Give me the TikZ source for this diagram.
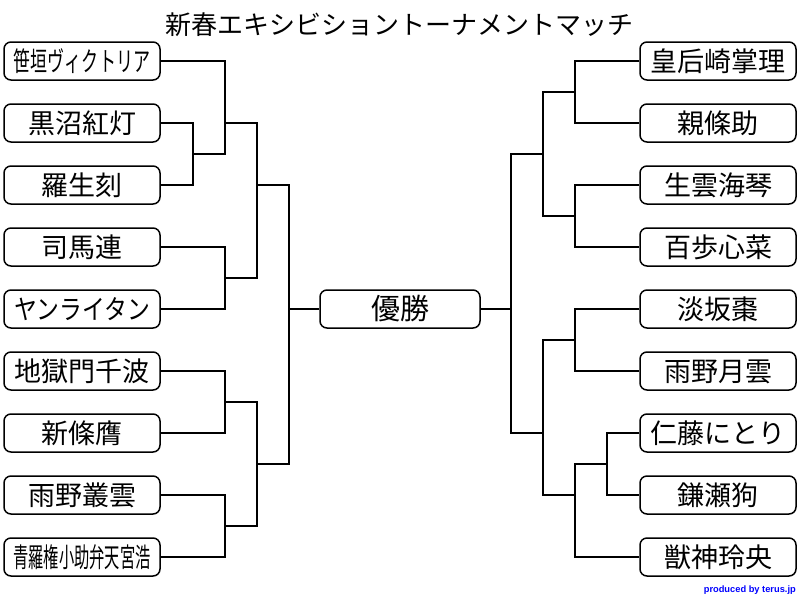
\documentclass[tikz,border=0pt]{standalone}
\usepackage{graphicx}
\usepackage{fontspec}
\setmainfont{Liberation Sans}
\newfontfamily\cjk{Noto Sans CJK JP}
\tikzset{
  entry/.style={draw, line width=1.5pt, rounded corners=7pt, minimum width=156pt, minimum height=38pt, inner sep=0pt, text height=24pt, text depth=3pt, font=\cjk\fontsize{27pt}{27pt}\selectfont},
  link/.style={line width=2pt}
}
\begin{document}
\begin{tikzpicture}[x=1pt, y=-1pt]
\fill [color=white] (0, 0) rectangle (800, 600);
\useasboundingbox (0, 0) rectangle (800, 600);

\node (title) at (399, 34) [anchor=base, font=\cjk\fontsize{26pt}{26pt}\selectfont] {新春エキシビショントーナメントマッチ};

\node (l1) at (82, 61) [entry] {\scalebox{0.63}[1]{笹垣ヴィクトリア}};
\node (l2) at (82, 123) [entry] {黒沼紅灯};
\node (l3) at (82, 185) [entry] {羅生刻};
\node (l4) at (82, 247) [entry] {司馬連};
\node (l5) at (82, 309) [entry] {\scalebox{0.845}[1]{ヤンライタン}};
\node (l6) at (82, 371) [entry] {地獄門千波};
\node (l7) at (82, 433) [entry] {新條膺};
\node (l8) at (82, 495) [entry] {雨野叢雲};
\node (l9) at (82, 557) [entry] {\scalebox{0.565}[1]{青羅権小助弁天宮浩}};

\node (r1) at (718, 61) [entry] {皇后崎掌理};
\node (r2) at (718, 123) [entry] {親條助};
\node (r3) at (718, 185) [entry] {生雲海琴};
\node (r4) at (718, 247) [entry] {百歩心菜};
\node (r5) at (718, 309) [entry] {淡坂棗};
\node (r6) at (718, 371) [entry] {雨野月雲};
\node (r7) at (718, 433) [entry] {仁藤にとり};
\node (r8) at (718, 495) [entry] {鎌瀬狗};
\node (r9) at (718, 557) [entry] {獣神玲央};

\node (win) at (400, 309) [entry, minimum width=160pt, font=\cjk\fontsize{29pt}{29pt}\selectfont] {優勝};

\coordinate (a1) at (193, 154);
\coordinate (a2) at (225, 123);
\coordinate (a3) at (225, 278);
\coordinate (a4) at (257, 185);
\coordinate (a5) at (225, 402);
\coordinate (a6) at (225, 526);
\coordinate (a7) at (257, 464);
\coordinate (a8) at (289, 309);

\draw [link] (l2.east) -| (a1) |- (l3.east);
\draw [link] (l1.east) -| (a2) |- (a1);
\draw [link] (l4.east) -| (a3) |- (l5.east);
\draw [link] (a2) -| (a4) |- (a3);
\draw [link] (l6.east) -| (a5) |- (l7.east);
\draw [link] (l8.east) -| (a6) |- (l9.east);
\draw [link] (a5) -| (a7) |- (a6);
\draw [link] (a4) -| (a8) |- (a7);
\draw [link] (a8) -- (win.west);

\coordinate (b1) at (575, 92);
\coordinate (b2) at (575, 216);
\coordinate (b3) at (543, 154);
\coordinate (b4) at (575, 340);
\coordinate (b5) at (607, 464);
\coordinate (b6) at (575, 495);
\coordinate (b7) at (543, 433);
\coordinate (b8) at (511, 309);

\draw [link] (r1.west) -| (b1) |- (r2.west);
\draw [link] (r3.west) -| (b2) |- (r4.west);
\draw [link] (b1) -| (b3) |- (b2);
\draw [link] (r5.west) -| (b4) |- (r6.west);
\draw [link] (r7.west) -| (b5) |- (r8.west);
\draw [link] (b5) -| (b6) |- (r9.west);
\draw [link] (b4) -| (b7) |- (b6);
\draw [link] (b3) -| (b8) |- (b7);
\draw [link] (win.east) -- (b8);

\node (credit) at (796, 590) [anchor=east, inner sep=0pt, text=blue, font=\bfseries\fontsize{9.3pt}{9.3pt}\selectfont] {produced by terus.jp};
\end{tikzpicture}
\end{document}
